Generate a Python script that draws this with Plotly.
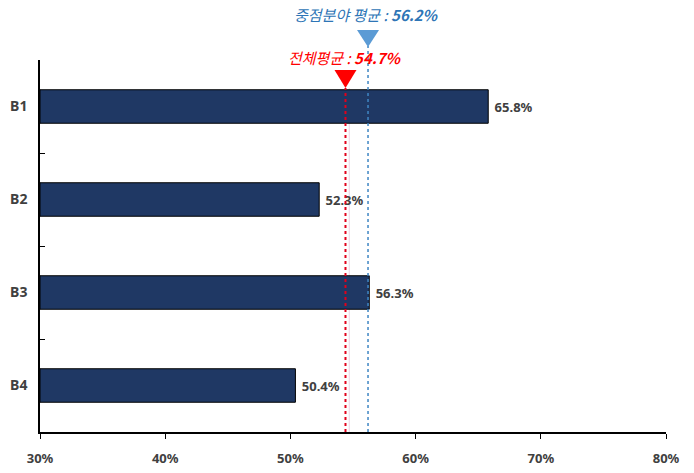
import plotly.graph_objects as go

categories = ["B1", "B2", "B3", "B4"]
values = [65.8, 52.3, 56.3, 50.4]
value_labels = ["65.8%", "52.3%", "56.3%", "50.4%"]
x_ticks = [30, 40, 50, 60, 70, 80]
x_tick_labels = ["30%", "40%", "50%", "60%", "70%", "80%"]

overall_avg_label = 54.7   # 전체평균 (label value)
overall_avg_pos = 54.4     # where the red marker line is drawn in the picture
focus_avg = 56.2           # 중점분야 평균
axis_min = 30

W, H = 694, 473
L, R, T, B = 40, 28, 60, 41
ph = H - T - B

def py(pix):
    return (H - B - pix) / ph

fig = go.Figure()
fig.add_trace(go.Bar(
    y=categories, x=[v - axis_min for v in values], base=axis_min, orientation="h",
    marker=dict(color="#1F3864", line=dict(color="#000000", width=1)),
    width=0.36,
    text=["\u00a0" + t for t in value_labels], textposition="outside",
    textfont=dict(family="Noto Sans, Arial", size=13, color="#404040", weight="bold"),
    cliponaxis=False, hoverinfo="skip",
))

shapes = []
shapes.append(dict(type="line", xref="x", yref="paper", x0=overall_avg_label, x1=overall_avg_label,
                   y0=0, y1=py(88), layer="below", line=dict(color="#EBD3E3", width=1)))
shapes.append(dict(type="line", xref="x", yref="paper", x0=overall_avg_pos, x1=overall_avg_pos,
                   y0=0, y1=py(88), line=dict(color="#E0001B", width=2, dash="dot")))
shapes.append(dict(type="line", xref="x", yref="paper", x0=focus_avg, x1=focus_avg,
                   y0=0, y1=py(46), line=dict(color="#3F86C4", width=1.5, dash="dot")))
shapes.append(dict(type="path", xref="x", yref="paper", xsizemode="pixel", ysizemode="pixel",
                   xanchor=overall_avg_pos, yanchor=py(88),
                   path="M -11 18 L 11 18 L 0 0 Z",
                   fillcolor="#FF0000", line=dict(color="#FF0000", width=0)))
shapes.append(dict(type="path", xref="x", yref="paper", xsizemode="pixel", ysizemode="pixel",
                   xanchor=focus_avg, yanchor=py(47),
                   path="M -11 17 L 11 17 L 0 0 Z",
                   fillcolor="#5B9BD5", line=dict(color="#5B9BD5", width=0)))

annotations = [
    dict(xref="x", yref="paper", x=overall_avg_pos, y=py(57), showarrow=False,
         xanchor="center", yanchor="middle",
         text="<i>전체평균 : </i><b><i>%.1f%%</i></b>" % overall_avg_label,
         font=dict(family="Noto Sans CJK KR, Noto Sans", size=15, color="#FF0000")),
    dict(xref="x", yref="paper", x=focus_avg - 0.2, y=py(14), showarrow=False,
         xanchor="center", yanchor="middle",
         text="<i>중점분야 평균 : </i><b><i>%.1f%%</i></b>" % focus_avg,
         font=dict(family="Noto Sans CJK KR, Noto Sans", size=15, color="#2E75B6")),
]

fig.update_layout(
    width=W, height=H,
    margin=dict(l=L, r=R, t=T, b=B, autoexpand=False),
    paper_bgcolor="white", plot_bgcolor="white",
    showlegend=False,
    shapes=shapes, annotations=annotations,
    xaxis=dict(range=[30, 80], tickvals=x_ticks, ticktext=x_tick_labels, automargin=False,
               showgrid=False, zeroline=False, showline=True, linecolor="#000000", linewidth=1.5,
               ticks="outside", ticklen=5, tickcolor="#000000", ticklabelstandoff=9,
               tickfont=dict(family="Noto Sans, Arial", size=13, color="#404040", weight="bold")),
    yaxis=dict(categoryorder="array", categoryarray=categories, range=[3.5, -0.5], automargin=False,
               showgrid=False, zeroline=False, showline=True, linecolor="#000000", linewidth=1.5,
               ticks="inside", ticklen=5, tickcolor="#000000", tickson="boundaries",
               ticklabelstandoff=8,
               tickfont=dict(family="Noto Sans, Arial", size=14, color="#404040", weight="bold")),
)

fig.write_html("out.html")
